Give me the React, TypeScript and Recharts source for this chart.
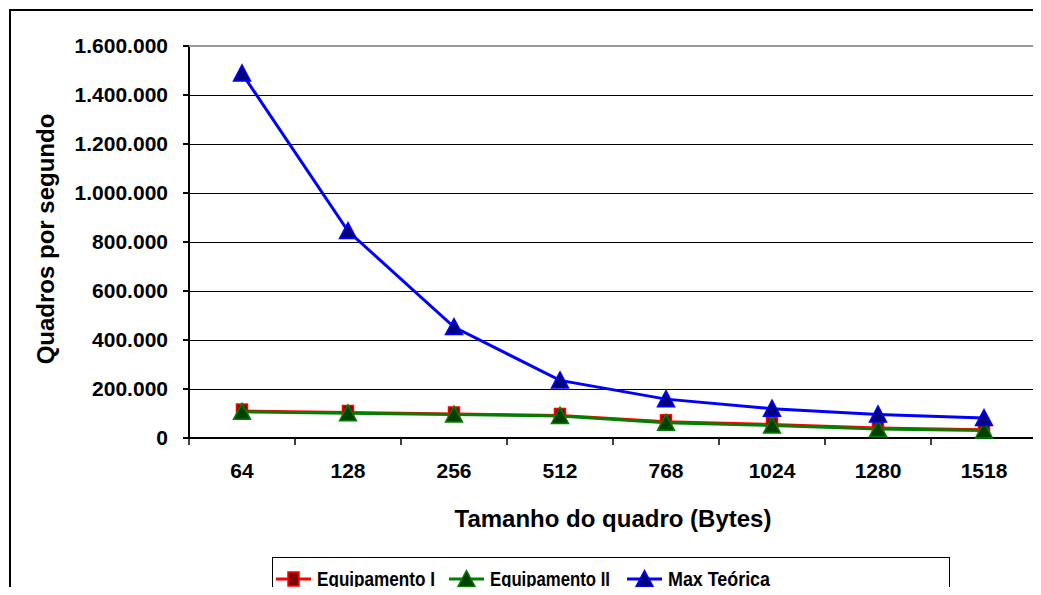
import { LineChart, Line, XAxis, YAxis, CartesianGrid } from "recharts";

// frame sizes in bytes
const sizes = ["64", "128", "256", "512", "768", "1024", "1280", "1518"];
// frames per second
const equipI = [110000, 104000, 98000, 92000, 66000, 55000, 41000, 34000];
const equipII = [107000, 101000, 96000, 90000, 62000, 51000, 37000, 31000];
const maxTeorica = [1488095, 844595, 452899, 234962, 158629, 119732, 96154, 81274];
const yTicks = [0, 200000, 400000, 600000, 800000, 1000000, 1200000, 1400000, 1600000];

const data = sizes.map((s, i) => ({
  size: s,
  equipI: equipI[i],
  equipII: equipII[i],
  maxT: maxTeorica[i],
}));

const W = 1041;
const H = 595;
const PLOT_LEFT = 189;
const PLOT_RIGHT = 1037;
const PLOT_TOP = 46;
const PLOT_BOTTOM = 438;
const BAND = (PLOT_RIGHT - PLOT_LEFT) / sizes.length;
const FONT = "Arial, 'Liberation Sans', Helvetica, sans-serif";

const series = [
  { key: "equipI", name: "Equipamento I", stroke: "#ff0000", fill: "#800000", shape: "square", legendX: 3, textW: 118 },
  { key: "equipII", name: "Equipamento II", stroke: "#008000", fill: "#004000", shape: "triangle", legendX: 176, textW: 120 },
  { key: "maxT", name: "Max Teórica", stroke: "#0000ff", fill: "#000080", shape: "triangle", legendX: 354, textW: 102 },
];

const fmt = (v: number) => String(v).replace(/\B(?=(\d{3})+(?!\d))/g, ".");

function Marker({ cx, cy, shape, stroke, fill }: any) {
  if (cx == null || cy == null) return null;
  if (shape === "square") {
    return <rect x={cx - 5.5} y={cy - 7} width={11} height={14} fill={fill} stroke={stroke} strokeWidth={1.5} />;
  }
  return (
    <polygon
      points={`${cx},${cy - 8.5} ${cx + 8.5},${cy + 7.5} ${cx - 8.5},${cy + 7.5}`}
      fill={fill}
      stroke={stroke}
      strokeWidth={1.5}
    />
  );
}

function XTick({ x, payload, index }: any) {
  const left = x - BAND / 2;
  return (
    <g>
      <line x1={left} y1={PLOT_BOTTOM} x2={left} y2={PLOT_BOTTOM + 7} stroke="#000" strokeWidth={1.5} />
      {index === sizes.length - 1 && (
        <line x1={x + BAND / 2} y1={PLOT_BOTTOM} x2={x + BAND / 2} y2={PLOT_BOTTOM + 7} stroke="#000" strokeWidth={1.5} />
      )}
      <text x={x} y={PLOT_BOTTOM + 40} textAnchor="middle" fontSize={21} fontWeight="bold" fontFamily={FONT} fill="#000">
        {payload.value}
      </text>
    </g>
  );
}

function Legend() {
  return (
    <div
      style={{
        position: "absolute",
        left: 272,
        top: 557,
        width: 678,
        height: 60,
        border: "1.5px solid #000",
        boxSizing: "border-box",
        background: "#fff",
      }}
    >
      <svg width={678} height={40} style={{ position: "absolute", left: 0, top: 0 }}>
        {series.map((s) => (
          <g key={s.key}>
            <line x1={s.legendX} y1={21} x2={s.legendX + 35} y2={21} stroke={s.stroke} strokeWidth={3} />
            <Marker cx={s.legendX + 17.5} cy={21} shape={s.shape} stroke={s.stroke} fill={s.fill} />
            <text
              x={s.legendX + 41}
              y={27.5}
              fontSize={21}
              fontWeight="bold"
              fontFamily={FONT}
              fill="#000"
              textLength={s.textW}
              lengthAdjust="spacingAndGlyphs"
            >
              {s.name}
            </text>
          </g>
        ))}
      </svg>
    </div>
  );
}

export default function App() {
  return (
    <div
      style={{
        position: "relative",
        width: W,
        height: H,
        margin: -8,
        overflow: "hidden",
        background: "#fff",
        fontFamily: FONT,
      }}
    >
      <style>{`.recharts-cartesian-grid line, .recharts-cartesian-axis-line, .recharts-cartesian-axis-tick-line { shape-rendering: crispEdges; }`}</style>
      <div
        style={{
          position: "absolute",
          left: 9,
          top: 9,
          width: 1200,
          height: 800,
          border: "2px solid #000",
          boxSizing: "border-box",
        }}
      />
      <div style={{ position: "absolute", left: 0, top: 0 }}>
        <LineChart
          width={W}
          height={H}
          data={data}
          margin={{ top: PLOT_TOP, right: W - PLOT_RIGHT, bottom: H - PLOT_BOTTOM - 60, left: PLOT_LEFT - 100 }}
        >
          <CartesianGrid vertical={false} stroke="#000" strokeWidth={1} />
          <XAxis
            dataKey="size"
            height={60}
            padding={{ left: BAND / 2, right: BAND / 2 }}
            tickLine={false}
            axisLine={{ stroke: "#000", strokeWidth: 1.5 }}
            tick={<XTick />}
            interval={0}
            label={{
              content: () => (
                <text x={613} y={527} textAnchor="middle" fontSize={24} fontWeight="bold" fontFamily={FONT} fill="#000">
                  Tamanho do quadro (Bytes)
                </text>
              ),
            }}
          />
          <YAxis
            width={100}
            domain={[0, 1600000]}
            ticks={yTicks}
            tickFormatter={fmt}
            interval={0}
            tickSize={6}
            tickMargin={15}
            tickLine={{ stroke: "#000", strokeWidth: 1.5 }}
            axisLine={{ stroke: "#000", strokeWidth: 1.5 }}
            tick={{ fontSize: 21, fontWeight: "bold", fontFamily: FONT, fill: "#000" }}
            label={{
              content: () => (
                <text
                  x={54}
                  y={239}
                  transform="rotate(-90 54 239)"
                  textAnchor="middle"
                  fontSize={24}
                  fontWeight="bold"
                  fontFamily={FONT}
                  fill="#000"
                >
                  Quadros por segundo
                </text>
              ),
            }}
          />
          {series.map((s) => (
            <Line
              key={s.key}
              dataKey={s.key}
              name={s.name}
              type="linear"
              stroke={s.stroke}
              strokeWidth={3}
              isAnimationActive={false}
              dot={(p: any) => <Marker key={`${s.key}-${p.index}`} cx={p.cx} cy={p.cy} shape={s.shape} stroke={s.stroke} fill={s.fill} />}
            />
          ))}
        </LineChart>
      </div>
      <div
        style={{
          position: "absolute",
          left: PLOT_LEFT,
          top: PLOT_TOP - 1,
          width: PLOT_RIGHT - PLOT_LEFT + 1,
          height: PLOT_BOTTOM - PLOT_TOP + 1,
          borderTop: "2px solid #999",
          borderRight: "2px solid #999",
          boxSizing: "border-box",
          pointerEvents: "none",
        }}
      />
      <Legend />
    </div>
  );
}
